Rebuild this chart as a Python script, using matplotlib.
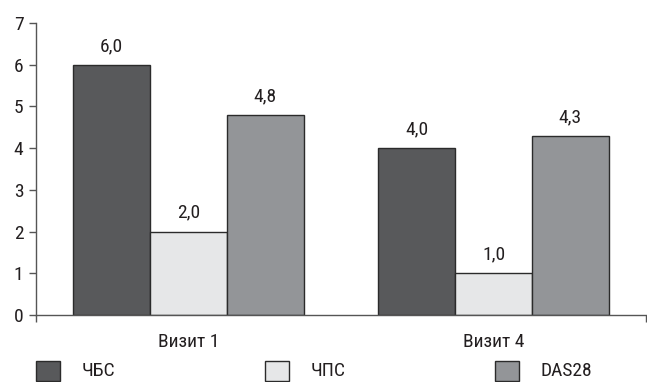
import matplotlib
matplotlib.use("Agg")
import matplotlib.pyplot as plt
from matplotlib.patches import Rectangle

plt.rcParams["font.family"] = ["Roboto Condensed", "DejaVu Sans"]

categories = ["Визит 1", "Визит 4"]
series_names = ["ЧБС", "ЧПС", "DAS28"]
values = {
    "ЧБС": [6.0, 4.0],
    "ЧПС": [2.0, 1.0],
    "DAS28": [4.8, 4.3],
}
value_labels = {
    "ЧБС": ["6,0", "4,0"],
    "ЧПС": ["2,0", "1,0"],
    "DAS28": ["4,8", "4,3"],
}
y_ticks = [0, 1, 2, 3, 4, 5, 6, 7]

colors = {"ЧБС": "#58595b", "ЧПС": "#e6e7e8", "DAS28": "#939598"}
edge = "#2b2b2b"
text_color = "#231f20"
fs = 14

W, H = 647, 382
fig = plt.figure(figsize=(W / 100, H / 100), dpi=100)
ax = fig.add_axes([36 / W, 67 / H, 610 / W, (315 - 23) / H])

bar_w = 0.252
offsets = [-bar_w, 0, bar_w]
for name, off in zip(series_names, offsets):
    xs = [i + off for i in range(len(categories))]
    ax.bar(xs, values[name], width=bar_w, color=colors[name],
           edgecolor=edge, linewidth=1.0, zorder=2)
    for x, v, lab in zip(xs, values[name], value_labels[name]):
        ax.annotate(lab, (x, v), xytext=(0, 7), textcoords="offset points",
                    ha="center", va="bottom", fontsize=fs, color=text_color)

ax.set_xlim(-0.5, len(categories) - 0.5)
ax.set_ylim(0, 7)
ax.set_yticks(y_ticks)
ax.set_yticklabels([str(t) for t in y_ticks], fontsize=fs, color=text_color)
ax.set_xticks(range(len(categories)))
ax.set_xticklabels(categories, fontsize=fs, color=text_color)
ax.tick_params(axis="x", length=0, pad=13)
ax.set_xticks([-0.5, len(categories) - 0.5], minor=True)
ax.tick_params(axis="x", which="minor", length=5, width=1, color="#555555")
ax.tick_params(axis="y", length=5, width=1, color="#555555", pad=4)

for s in ["top", "right"]:
    ax.spines[s].set_visible(False)
for s in ["left", "bottom"]:
    ax.spines[s].set_color("#555555")
    ax.spines[s].set_linewidth(1.0)

# legend row at the bottom
legend_x = [36, 265, 495]
for name, lx in zip(series_names, legend_x):
    fig.patches.append(Rectangle((lx / W, 1 / H), 24 / W, 20 / H,
                                 transform=fig.transFigure, facecolor=colors[name],
                                 edgecolor=edge, linewidth=1.0))
    fig.text((lx + 46) / W, 11 / H, name, fontsize=fs, va="center",
             ha="left", color=text_color)

fig.savefig("out.png", dpi=100)
